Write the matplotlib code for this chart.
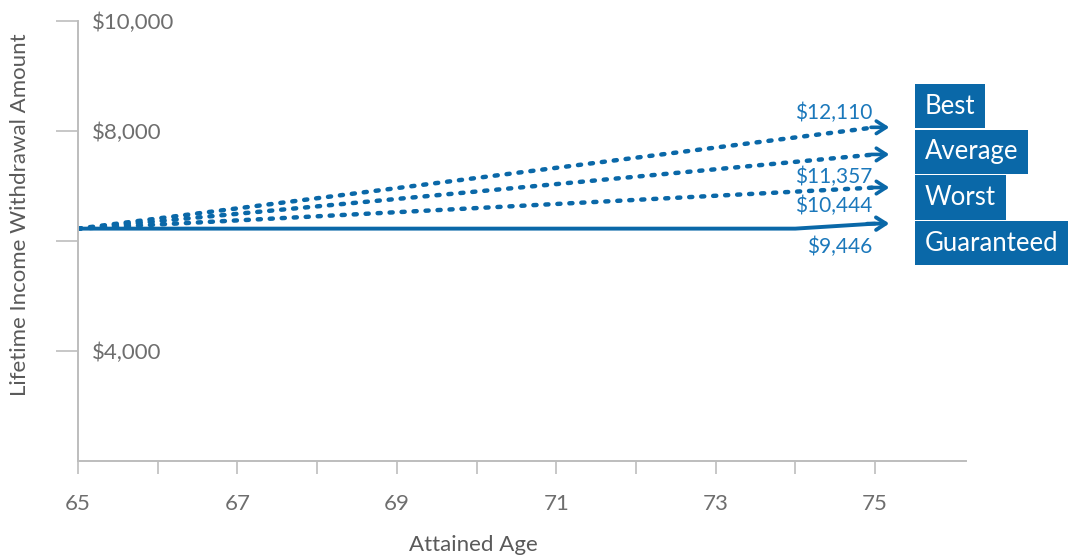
import matplotlib
matplotlib.use('Agg')
from matplotlib import pyplot as plt

# Data
ages_dotted = [65, 75]
best = [6225, 8067]
average = [6225, 7574]
worst = [6225, 6972]

ages_guaranteed = [65, 74, 75]
guaranteed = [6225, 6225, 6316]

series_names = ['Best', 'Average', 'Worst', 'Guaranteed']
end_labels = ['$12,110', '$11,357', '$10,444', '$9,446']

y_ticks = [4000, 6000, 8000, 10000]
y_tick_labels = ['$4,000', '', '$8,000', '$10,000']
x_ticks = list(range(65, 76))
x_tick_labels = [str(a) if a % 2 == 1 else '' for a in x_ticks]

BLUE = '#0a68a8'
LABEL_BLUE = '#1b78bb'
GREY = '#6e6e6e'
FONT = ['Lato', 'DejaVu Sans']

W, H = 1074, 559
fig = plt.figure(figsize=(W / 100, H / 100), dpi=100)
ax = fig.add_axes([78 / W, 1 - 461 / H, (966 - 78) / W, (461 - 21) / H])

ax.set_xlim(65, 65 + (966 - 78) / 79.7)
ax.set_ylim(2000, 10000)

head = '->,head_length=0.7,head_width=0.45'

# lines with arrow heads at their ends
dotted = dict(color=BLUE, lw=3.2, linestyle=(0, (0.7, 2.0)),
              dash_capstyle='round', solid_capstyle='round')
for ys in (best, average, worst):
    ax.plot(ages_dotted, ys, **dotted)
    ax.annotate('', xy=(ages_dotted[-1] + 0.18, ys[-1]),
                xytext=(ages_dotted[-1] - 0.05, ys[-1]),
                arrowprops=dict(arrowstyle=head, color=BLUE, lw=2.6,
                                shrinkA=0, shrinkB=0))
ax.plot(ages_guaranteed, guaranteed, color=BLUE, lw=2.8, solid_capstyle='round')
ax.annotate('', xy=(ages_guaranteed[-1] + 0.18, guaranteed[-1] + 2),
            xytext=(ages_guaranteed[-1] - 0.1, guaranteed[-1] - 2),
            arrowprops=dict(arrowstyle=head, color=BLUE, lw=2.8,
                            shrinkA=0, shrinkB=0))

# value labels near the line ends
label_y = [8322, 7173, 6644, 5897]
for txt, yv in zip(end_labels, label_y):
    ax.text(74.97, yv, txt, ha='right', va='center', color=LABEL_BLUE,
            fontsize=15, family=FONT)

# series name boxes on the right
box_y = [106, 152, 197.5, 243]
for name, py in zip(series_names, box_y):
    fig.text(925 / W, 1 - py / H, name, ha='left', va='center', color='white',
             fontsize=18.5, family=FONT,
             bbox=dict(boxstyle='square,pad=0.38', fc=BLUE, ec='none'))

# axes styling
for s in ('top', 'right'):
    ax.spines[s].set_visible(False)
for s in ('left', 'bottom'):
    ax.spines[s].set_color('#bdbdbd')
    ax.spines[s].set_linewidth(1.4)

ax.set_xticks(x_ticks)
ax.set_xticklabels(x_tick_labels)
ax.tick_params(axis='x', direction='out', length=9.5, width=1.2, color='#bdbdbd',
               labelcolor=GREY, labelsize=16, pad=14)
ax.set_yticks(y_ticks)
ax.set_yticklabels(y_tick_labels)
ax.tick_params(axis='y', direction='out', length=16, width=1.2, color='#bdbdbd',
               labelcolor=GREY, labelsize=16, pad=-26)
for lab in ax.get_yticklabels():
    lab.set_horizontalalignment('left')
for lab in ax.get_xticklabels() + ax.get_yticklabels():
    lab.set_family(FONT)

fig.text(20 / W, 1 - 215 / H, 'Lifetime Income Withdrawal Amount', rotation=90,
         ha='center', va='center', color='#5a5a5a', fontsize=16, family=FONT)
fig.text(473 / W, 1 - 545 / H, 'Attained Age', ha='center', va='center',
         color='#5a5a5a', fontsize=16, family=FONT)

fig.savefig('out.png', dpi=100)
